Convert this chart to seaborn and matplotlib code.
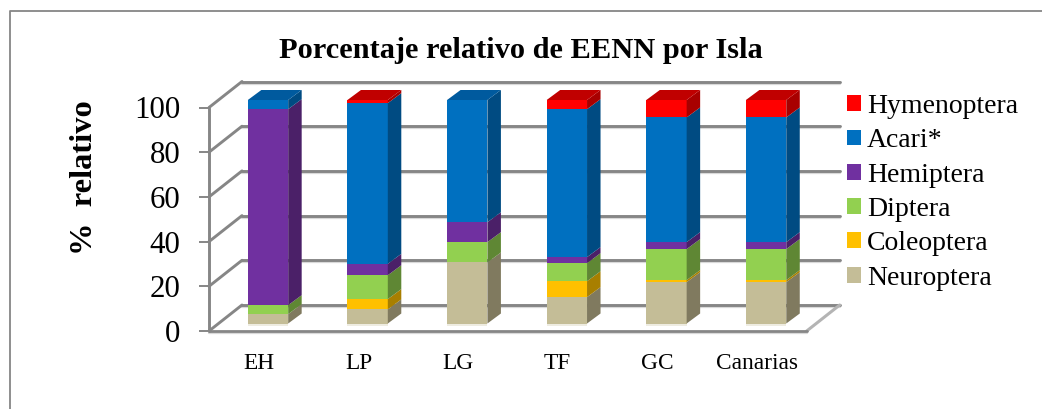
import matplotlib
matplotlib.use("Agg")
import matplotlib.pyplot as plt
from matplotlib.lines import Line2D
from matplotlib.patches import Polygon, Rectangle
from matplotlib.transforms import Affine2D
import seaborn as sns

islands = ["EH", "LP", "LG", "TF", "GC", "Canarias"]
neuroptera = [4.2, 6.3, 27.3, 11.8, 18.5, 18.5]
coleoptera = [0.0, 4.6, 0.0, 7.1, 0.9, 0.9]
diptera = [4.0, 10.7, 9.1, 8.1, 13.9, 13.9]
hemiptera = [87.7, 5.1, 8.9, 2.7, 3.1, 3.1]
acari = [4.1, 71.9, 54.7, 66.2, 55.8, 55.8]
hymenoptera = [0.0, 1.4, 0.0, 4.1, 7.8, 7.8]

series_names = ["Neuroptera", "Coleoptera", "Diptera", "Hemiptera", "Acari*", "Hymenoptera"]
series_values = [neuroptera, coleoptera, diptera, hemiptera, acari, hymenoptera]
front_colors = ["#C4BD97", "#FFC000", "#92D050", "#7030A0", "#0070C0", "#FF0000"]
side_colors = ["#807A5F", "#A87F00", "#5F8734", "#4B2068", "#004B82", "#A80000"]
top_colors = ["#A39D7D", "#D9A300", "#7AB040", "#5D2885", "#005A9E", "#C00000"]

W, H = 1042, 409
GRID = "#868686"
SHADOW = "#D9D9D9"

sns.set_theme(style="white")
plt.rcParams["font.family"] = ["Liberation Serif", "DejaVu Serif"]

fig = plt.figure(figsize=(W / 100, H / 100), dpi=100, facecolor="white")
x0_px, x1_px, y0_px, y1_px = 209.0, 806.7, 331.0, 107.5
ax = fig.add_axes([x0_px / W, 1 - y0_px / H, (x1_px - x0_px) / W, (y0_px - y1_px) / H])
ax.patch.set_visible(False)

bottoms = [0.0] * len(islands)
for name, vals, col in zip(series_names, series_values, front_colors):
    sns.barplot(x=islands, y=vals, bottom=bottoms, color=col, saturation=1, width=0.405,
                linewidth=0, label=name, ax=ax, zorder=5, legend=True)
    bottoms = [b + v for b, v in zip(bottoms, vals)]

ax.set_xlim(-0.5, 5.5)
ax.set_ylim(0, 100)
ux = 6 / (x1_px - x0_px)
uy = 100 / (y0_px - y1_px)

# 3-D depth of the chart box, and of the bars inside it
box_dx, box_dy = 33 * ux, 26 * uy
bar_dx, bar_dy = 13.5 * ux, 10 * uy
shift_x, shift_y = 9.2 * ux, 7.5 * uy

# back wall, side wall, floor
for t in range(0, 101, 20):
    ax.plot([-0.5 + box_dx, 5.5 + box_dx], [t + box_dy - 0.9] * 2, color=SHADOW, lw=1.6, zorder=1, clip_on=False)
    ax.plot([-0.5 + box_dx, 5.5 + box_dx], [t + box_dy] * 2, color=GRID, lw=2.1, zorder=2, clip_on=False)
    ax.plot([-0.5, -0.5 + box_dx], [t, t + box_dy], color=GRID, lw=2.1, zorder=2, clip_on=False)
ax.plot([5.5, 5.5 + box_dx], [0, box_dy], color="#B4B4B4", lw=2.2, zorder=2, clip_on=False)
ax.plot([-0.5, 5.5], [-1.0, -1.0], color=SHADOW, lw=1.6, zorder=2, clip_on=False)
ax.plot([-0.5, 5.5], [0, 0], color=GRID, lw=2.0, zorder=3, clip_on=False)
ax.plot([-0.5, -0.5], [0, 100], color=GRID, lw=2.1, zorder=3, clip_on=False)

# turn the flat bars into prisms
n = len(islands)
for s, cont in enumerate(ax.containers):
    for i, bar in enumerate(cont.patches):
        bar.set_transform(Affine2D().translate(shift_x, shift_y) + ax.transData)
        bar.set_clip_on(False)
        left, w, low, h = bar.get_x(), bar.get_width(), bar.get_y(), bar.get_height()
        if h <= 0:
            continue
        r = left + w + shift_x
        lo, hi = low + shift_y, low + h + shift_y
        ax.add_patch(Polygon([(r, lo), (r, hi), (r + bar_dx, hi + bar_dy), (r + bar_dx, lo + bar_dy)],
                             closed=True, fc=side_colors[s], ec="none", zorder=5, clip_on=False))
        if all(series_values[k][i] == 0 for k in range(s + 1, len(series_values))):
            l = left + shift_x
            ax.add_patch(Polygon([(l, hi), (r, hi), (r + bar_dx, hi + bar_dy), (l + bar_dx, hi + bar_dy)],
                                 closed=True, fc=top_colors[s], ec="none", zorder=5, clip_on=False))
        if s == 0:
            ax.add_patch(Rectangle((left + shift_x, shift_y - 0.9), w, 0.9, fc="#EEECE1", ec="none",
                                   zorder=5, clip_on=False))

# axes: ticks and labels
sns.despine(ax=ax, left=True, bottom=True, right=True, top=True)
ax.set_xticks(range(n))
ax.set_xticklabels(islands)
ax.set_xticks([i - 0.5 for i in range(n + 1)], minor=True)
ax.set_yticks(range(0, 101, 20))
ax.tick_params(axis="x", which="major", length=0, pad=15.5, labelsize=16.8, labelcolor="black")
ax.tick_params(axis="x", which="minor", length=5.2, width=1.1, color=GRID)
ax.tick_params(axis="y", which="major", left=True, length=7.2, width=1.4, color=GRID, pad=13.5,
               labelsize=22.2, labelcolor="black")
ax.set_xlabel("")
ax.set_ylabel("")

fig.text(520.5 / W, 1 - 51 / H, "Porcentaje relativo de EENN por Isla", ha="center", va="center",
         fontsize=21.9, fontweight="bold", color="black")
fig.text(84 / W, 1 - 178 / H, "%  relativo", rotation=90, ha="center", va="center",
         fontsize=23.4, fontweight="bold", color="black")

# legend, top entry first
handles, labels = ax.get_legend_handles_labels()
ax.legend(handles[::-1], labels[::-1], loc="upper left", bbox_to_anchor=(847 / W, 1 - 94 / H),
          bbox_transform=fig.transFigure, frameon=False, fontsize=20, borderpad=0, borderaxespad=0,
          handlelength=0.5, handleheight=0.5, handletextpad=0.22, labelspacing=0.335, labelcolor="black")

# outer chart frame, running off the right and bottom of the picture
fig.add_artist(Line2D([10 / W, 10 / W, 1], [0, 1 - 10.5 / H, 1 - 10.5 / H], color=GRID, lw=1.3,
                      transform=fig.transFigure))

fig.savefig("out.png", dpi=100, facecolor="white")
